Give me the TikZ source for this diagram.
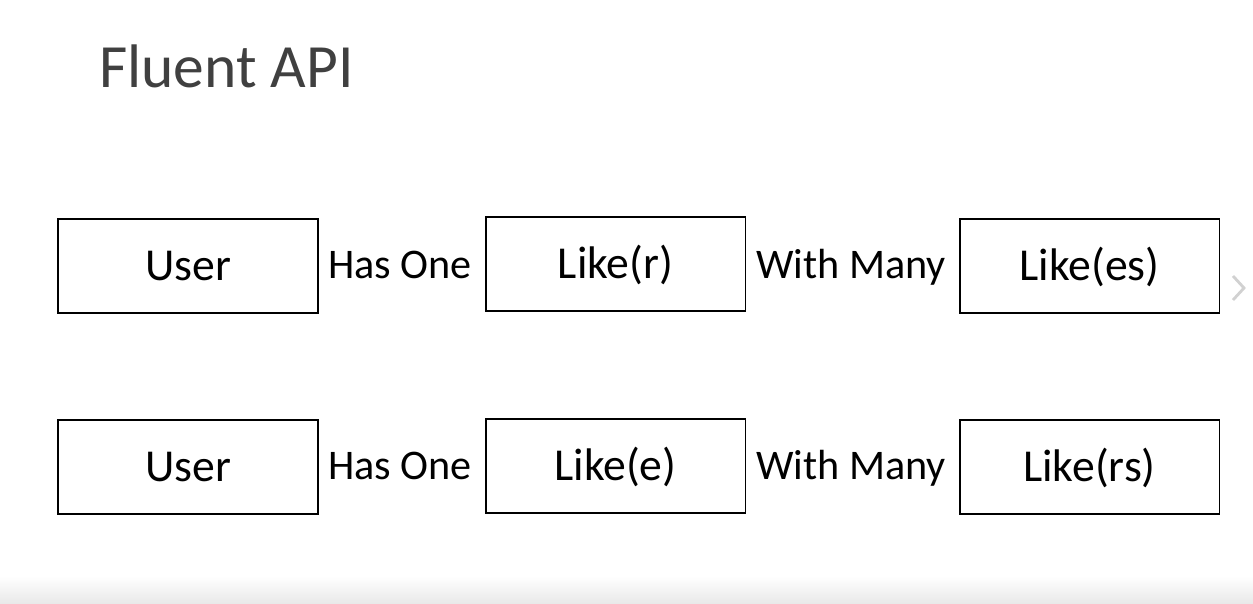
\documentclass[tikz,border=0pt]{standalone}
\usepackage{fontspec}
\setmainfont{Carlito}
\usepackage{xcolor}
\usetikzlibrary{positioning}

\begin{document}
\begin{tikzpicture}[x=0.02cm,y=-0.02cm,
  entity/.style={draw=black,line width=1.1pt,minimum width=5.2cm,minimum height=1.88cm,inner sep=0pt,
    text height=19pt,text depth=3pt,font=\fontsize{26}{30}\selectfont},
  relname/.style={anchor=base,inner sep=0pt,font=\fontsize{24}{30}\selectfont}]
  \useasboundingbox (0,0) rectangle (1253,604);
  \shade[top color=white,bottom color=black!9] (0,576) rectangle (1253,604);
  \node[anchor=base west,text=black!75,font=\fontsize{35}{40}\selectfont,inner sep=0pt] (title) at (99,88) {Fluent API};
  % first row
  \node[entity] (user1) at (188,266) {User};
  \node[relname] (hasone1) at (400,278) {Has One};
  \node[entity] (liker) at (615.5,264) {Like(r)};
  \node[relname] (withmany1) at (851,278) {With Many};
  \node[entity] (likees) at (1089.5,266) {Like(es)};
  % second row
  \node[entity] (user2) at (188,467) {User};
  \node[relname] (hasone2) at (400,479) {Has One};
  \node[entity] (likee) at (615.5,466) {Like(e)};
  \node[relname] (withmany2) at (851,479) {With Many};
  \node[entity] (likers) at (1089.5,467) {Like(rs)};
  % slide arrow
  \draw[black!18,line width=1.6pt] (1233,276) -- (1244,288) -- (1233,300);
\end{tikzpicture}
\end{document}
